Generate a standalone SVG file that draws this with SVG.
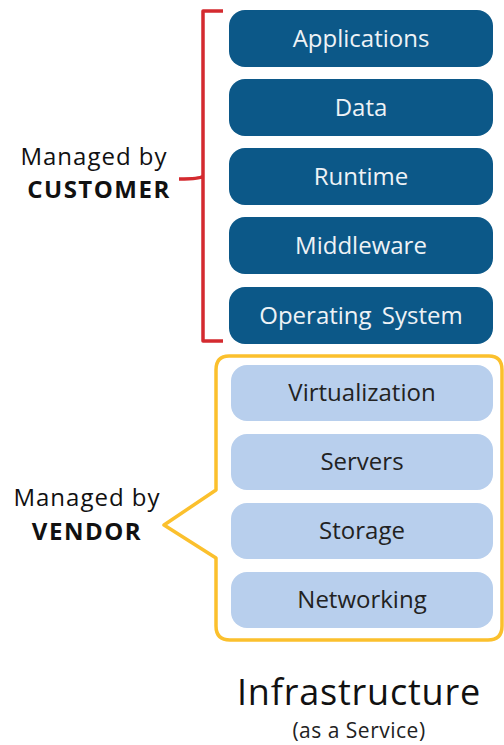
<svg xmlns="http://www.w3.org/2000/svg" width="504" height="745" viewBox="0 0 504 745">
<style>
text{font-family:"Open Sans","Noto Sans","Liberation Sans",sans-serif}
.dk rect{fill:#0c5888}
.dk text{fill:#eef2f6;font-size:24px;text-anchor:middle}
.lt rect{fill:#b8cfed}
.lt text{fill:#222;font-size:24px;text-anchor:middle}
.lbl{fill:#111;font-size:24px;letter-spacing:1px;text-anchor:middle}
.b{font-weight:bold;letter-spacing:1.5px}
</style>
<rect width="504" height="745" fill="#fff"/>
<g id="connectors" fill="none" stroke-linejoin="round">
<path d="M223,11 H203 V176 Q201,179 179,179 M203,176 V341 H223" stroke="#d42a2f" stroke-width="3.5"/>
<path d="M229,356 H489 Q502,356 502,370 V626 Q502,640 488,640 H230 Q216,640 216,626 V558 L164,525 L216,490 V370 Q216,356 229,356 Z" stroke="#fbc02d" stroke-width="3.5"/>
</g>
<g id="applications" class="dk"><rect x="229" y="10" width="264" height="57" rx="16"/><text x="361" y="47">Applications</text></g>
<g id="data" class="dk"><rect x="229" y="79" width="264" height="57" rx="16"/><text x="361" y="116">Data</text></g>
<g id="runtime" class="dk"><rect x="229" y="148" width="264" height="57" rx="16"/><text x="361" y="185">Runtime</text></g>
<g id="middleware" class="dk"><rect x="229" y="217" width="264" height="57" rx="16"/><text x="361" y="254">Middleware</text></g>
<g id="os" class="dk"><rect x="229" y="287" width="264" height="57" rx="16"/><text x="361" y="324" word-spacing="4">Operating System</text></g>
<g id="virtualization" class="lt"><rect x="231" y="365" width="262" height="56" rx="16"/><text x="362" y="401">Virtualization</text></g>
<g id="servers" class="lt"><rect x="231" y="434" width="262" height="56" rx="16"/><text x="362" y="470">Servers</text></g>
<g id="storage" class="lt"><rect x="231" y="503" width="262" height="56" rx="16"/><text x="362" y="539">Storage</text></g>
<g id="networking" class="lt"><rect x="231" y="572" width="262" height="56" rx="16"/><text x="362" y="608">Networking</text></g>
<g id="customer-label"><text class="lbl" x="94" y="165">Managed by</text><text class="lbl b" x="99" y="198">CUSTOMER</text></g>
<g id="vendor-label"><text class="lbl" x="87" y="506">Managed by</text><text class="lbl b" x="87" y="540">VENDOR</text></g>
<g id="title"><text x="359" y="705" fill="#111" font-size="36" letter-spacing="0.8" text-anchor="middle">Infrastructure</text><text x="359" y="738" fill="#222" font-size="21" letter-spacing="0.5" text-anchor="middle">(as a Service)</text></g>
</svg>
